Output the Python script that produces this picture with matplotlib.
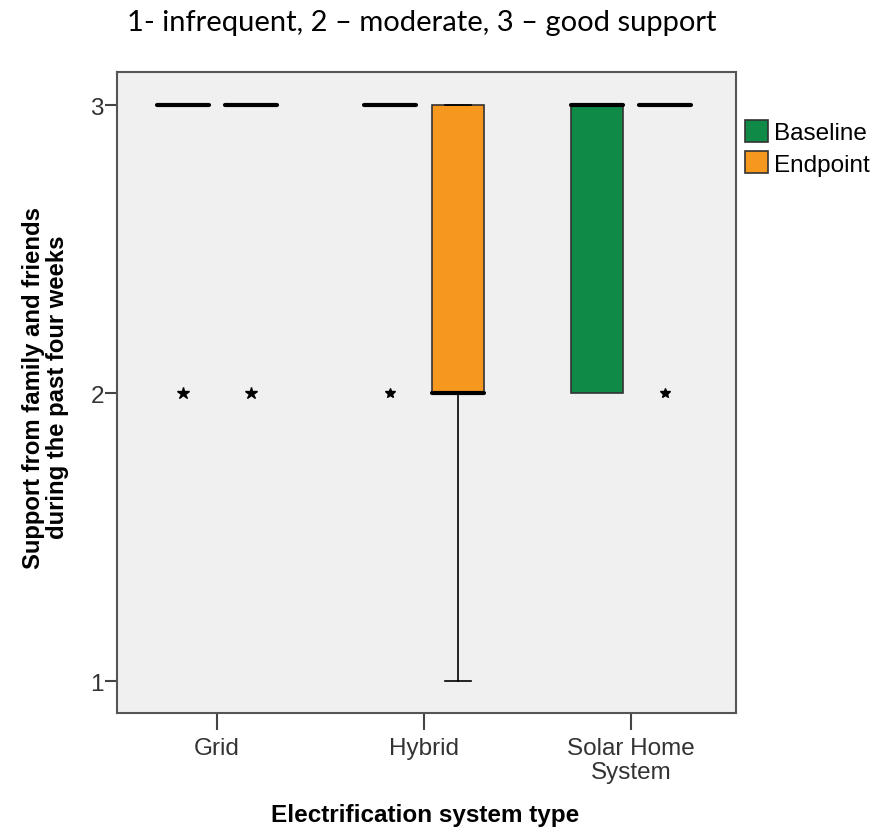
#!/usr/bin/env python3
"""Grouped box plots of family/friends support by electrification system type."""
import numpy as np
from matplotlib import pyplot as plt
from matplotlib.patches import Patch

categories = ["Grid", "Hybrid", "Solar Home\nSystem"]
groups = ["Baseline", "Endpoint"]
group_colors = ["#0f8b47", "#f7981e"]

# box summaries per category, [baseline, endpoint]
q1 = [[3, 3], [3, 2], [2, 3]]
median = [[3, 3], [3, 2], [3, 3]]
q3 = [[3, 3], [3, 3], [3, 3]]
whisker_lo = [[3, 3], [3, 1], [2, 3]]
whisker_hi = [[3, 3], [3, 3], [3, 3]]
outliers = [[[2], [2]], [[2], []], [[], [2]]]

plt.rcParams["font.family"] = ["Liberation Sans", "DejaVu Sans"]

fig = plt.figure(figsize=(8.84, 8.28), dpi=100)
ax = fig.add_axes([117 / 884, 114 / 828, 619 / 884, 641 / 828])
ax.set_facecolor("#f0f0f0")

offset = 0.165
width = 0.25
for i in range(len(categories)):
    for j in range(len(groups)):
        stats = [{
            "q1": q1[i][j], "med": median[i][j], "q3": q3[i][j],
            "whislo": whisker_lo[i][j], "whishi": whisker_hi[i][j],
            "fliers": outliers[i][j],
        }]
        pos = i + (j - 0.5) * 2 * offset
        # caps only where the whisker leaves the box
        show_caps = whisker_lo[i][j] < q1[i][j]
        ax.bxp(
            stats,
            positions=[pos],
            widths=width,
            capwidths=width / 2,
            patch_artist=True,
            showfliers=True,
            showcaps=show_caps,
            boxprops=dict(facecolor=group_colors[j], edgecolor="#333333", linewidth=1.2),
            medianprops=dict(color="black", linewidth=3, solid_capstyle="round"),
            whiskerprops=dict(color="black", linewidth=1.2),
            capprops=dict(color="black", linewidth=1.2),
            flierprops=dict(marker="*", markersize=9 if i == 0 else 7,
                            markerfacecolor="black", markeredgecolor="black"),
        )

ax.set_xlim(-0.483, 2.507)
ax.set_ylim(0.889, 3.115)
ax.set_xticks(range(len(categories)))
ax.set_xticklabels(categories, fontsize=17.5, color="#333333")
for lbl in ax.get_xticklabels():
    lbl.set_linespacing(1.15)
ax.set_yticks([1, 2, 3])
ax.set_yticklabels(["1", "2", "3"], fontsize=17.5, color="#333333")
ax.tick_params(axis="x", length=12, width=1.5, color="#444444", pad=5)
ax.tick_params(axis="y", length=8.5, width=1.5, color="#444444", pad=1)
for spine in ax.spines.values():
    spine.set_color("#555555")
    spine.set_linewidth(1.5)

ax.set_xlabel("Electrification system type", fontsize=17.5, fontweight="bold")
ax.set_ylabel("Support from family and friends\nduring the past four weeks",
              fontsize=17.2, fontweight="bold", linespacing=1.05)
ax.xaxis.set_label_coords(0.497, -0.141)
ax.yaxis.set_label_coords(-0.078, 0.509)

fig.text(0.477, 0.972, "1- infrequent, 2 \u2013 moderate, 3 \u2013 good support",
         ha="center", va="center", fontsize=21, family=["Lato", "DejaVu Sans"])

handles = [Patch(facecolor=c, edgecolor="#333333", linewidth=1.2, label=g)
           for g, c in zip(groups, group_colors)]
fig.legend(handles=handles, loc="upper left", bbox_to_anchor=(745 / 884, 1 - 121 / 828),
           frameon=False, fontsize=17.5, handlelength=0.95, handleheight=1.0,
           handletextpad=0.25, labelspacing=0.3, borderaxespad=0, borderpad=0)

fig.savefig("out.png", dpi=100)
